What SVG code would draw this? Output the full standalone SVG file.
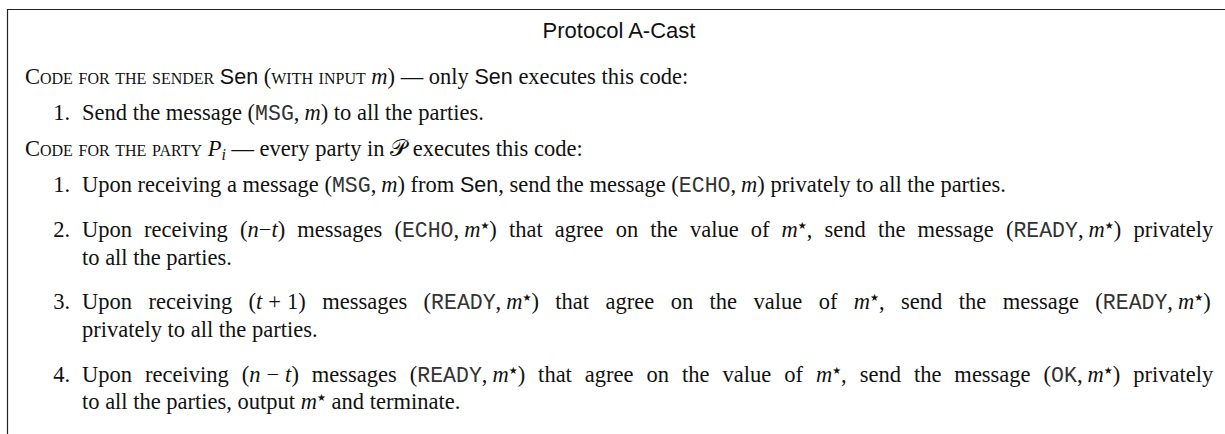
<svg xmlns="http://www.w3.org/2000/svg" width="1225" height="434" viewBox="0 0 1225 434">
<style>
text{font-family:"Liberation Serif","Times New Roman",serif;font-size:22.5px;fill:#111}
.sf{font-family:"Liberation Sans",Arial,sans-serif;font-size:21.5px}
.it{font-style:italic}
.tt{font-family:"Liberation Mono","Courier New",monospace;font-size:21.5px;fill:#333}
.sc{font-variant:small-caps}
.st{font-family:"DejaVu Sans",sans-serif;font-size:10px}
.num{text-anchor:end}
.frame{stroke:#222;stroke-width:1.2;fill:none}
</style>
<g id="frame">
<path class="frame" d="M7.5,434 V9.5 H1225"/>
</g>
<g id="title">
<text x="619" y="38" class="sf" style="font-size:22px" text-anchor="middle">Protocol A-Cast</text>
</g>
<g id="sender-section">
<text x="25" y="84"><tspan class="sc">Code for the sender</tspan> <tspan class="sf">Sen</tspan> (<tspan class="sc">with input</tspan> <tspan class="it">m</tspan>) — only <tspan class="sf">Sen</tspan> executes this code:</text>
<text x="70" y="120" class="num">1.</text>
<text x="82" y="120">Send the message (<tspan class="tt">MSG</tspan>,<tspan class="it" dx="5">m</tspan>) to all the parties.</text>
</g>
<g id="party-section">
<text x="25" y="156"><tspan class="sc">Code for the party</tspan> <tspan class="it">P</tspan><tspan class="it" font-size="16" baseline-shift="-4">i</tspan> — every party in 𝒫 executes this code:</text>
</g>
<g id="item1">
<text x="70" y="192" class="num">1.</text>
<text x="82" y="192">Upon receiving a message (<tspan class="tt">MSG</tspan>,<tspan class="it" dx="5">m</tspan>) from <tspan class="sf">Sen</tspan>, send the message (<tspan class="tt">ECHO</tspan>,<tspan class="it" dx="5">m</tspan>) privately to all the parties.</text>
</g>
<g id="item2">
<text x="70" y="237" class="num">2.</text>
<text x="82" y="237" style="word-spacing:6.5px">Upon receiving (<tspan class="it">n</tspan>−<tspan class="it">t</tspan>) messages (<tspan class="tt">ECHO</tspan>,<tspan class="it" dx="5">m</tspan><tspan class="st" baseline-shift="8">★</tspan>) that agree on the value of <tspan class="it">m</tspan><tspan class="st" baseline-shift="8">★</tspan>, send the message (<tspan class="tt">READY</tspan>,<tspan class="it" dx="5">m</tspan><tspan class="st" baseline-shift="8">★</tspan>) privately</text>
<text x="82" y="265">to all the parties.</text>
</g>
<g id="item3">
<text x="70" y="309" class="num">3.</text>
<text x="82" y="309" style="word-spacing:10.8px">Upon receiving (<tspan class="it">t</tspan><tspan dx="6">+</tspan><tspan dx="6">1</tspan>) messages (<tspan class="tt">READY</tspan>,<tspan class="it" dx="5">m</tspan><tspan class="st" baseline-shift="8">★</tspan>) that agree on the value of <tspan class="it">m</tspan><tspan class="st" baseline-shift="8">★</tspan>, send the message (<tspan class="tt">READY</tspan>,<tspan class="it" dx="5">m</tspan><tspan class="st" baseline-shift="8">★</tspan>)</text>
<text x="82" y="337">privately to all the parties.</text>
</g>
<g id="item4">
<text x="70" y="382" class="num">4.</text>
<text x="82" y="382" style="word-spacing:7.35px">Upon receiving (<tspan class="it">n</tspan><tspan dx="6">−</tspan><tspan class="it" dx="6">t</tspan>) messages (<tspan class="tt">READY</tspan>,<tspan class="it" dx="5">m</tspan><tspan class="st" baseline-shift="8">★</tspan>) that agree on the value of <tspan class="it">m</tspan><tspan class="st" baseline-shift="8">★</tspan>, send the message (<tspan class="tt">OK</tspan>,<tspan class="it" dx="5">m</tspan><tspan class="st" baseline-shift="8">★</tspan>) privately</text>
<text x="82" y="409">to all the parties, output <tspan class="it">m</tspan><tspan class="st" baseline-shift="8">★</tspan> and terminate.</text>
</g>
</svg>
